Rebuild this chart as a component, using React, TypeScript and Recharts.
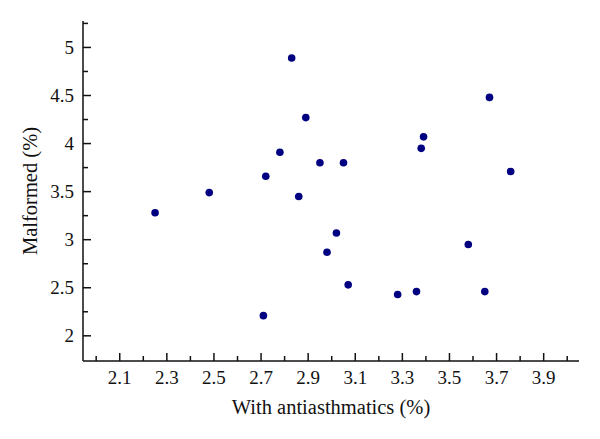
import { ScatterChart, Scatter, XAxis, YAxis } from 'recharts';

// values
const antiasthmatics = [2.25, 2.48, 2.71, 2.72, 2.78, 2.83, 2.86, 2.89, 2.95, 2.98, 3.02, 3.05, 3.07, 3.28, 3.36, 3.38, 3.39, 3.58, 3.65, 3.67, 3.76];
const malformed = [3.28, 3.49, 2.21, 3.66, 3.91, 4.89, 3.45, 4.27, 3.8, 2.87, 3.07, 3.8, 2.53, 2.43, 2.46, 3.95, 4.07, 2.95, 2.46, 4.48, 3.71];

const xMajor = [2.1, 2.3, 2.5, 2.7, 2.9, 3.1, 3.3, 3.5, 3.7, 3.9];
const xMinor = [2.0, 2.2, 2.4, 2.6, 2.8, 3.0, 3.2, 3.4, 3.6, 3.8, 4.0];
const yMajor = [2, 2.5, 3, 3.5, 4, 4.5, 5];
const yMinor = [2.25, 2.75, 3.25, 3.75, 4.25, 4.75, 5.25];

const xTicks = [...xMajor, ...xMinor].sort((a, b) => a - b);
const yTicks = [...yMajor, ...yMinor].sort((a, b) => a - b);

const points = antiasthmatics.map((x, i) => ({ x, y: malformed[i] }));

const FONT = '"Liberation Serif", "Times New Roman", serif';
const INK = '#111';

const isMajor = (list: number[], v: number) => list.some(m => Math.abs(m - v) < 1e-6);

function XTick(props: any) {
  const { x, y, payload } = props;
  const major = isMajor(xMajor, payload.value);
  return (
    <g>
      <line x1={x} y1={y} x2={x} y2={y - (major ? 8 : 5)} stroke={INK} strokeWidth={1.5} />
      {major && (
        <text x={x} y={y + 23} textAnchor="middle" fontSize={19} fontFamily={FONT} fill={INK}>
          {payload.value.toFixed(1)}
        </text>
      )}
    </g>
  );
}

function YTick(props: any) {
  const { x, y, payload } = props;
  const major = isMajor(yMajor, payload.value);
  return (
    <g>
      <line x1={x} y1={y} x2={x + (major ? 8 : 5)} y2={y} stroke={INK} strokeWidth={1.5} />
      {major && (
        <text x={x - 9} y={y} dy="0.35em" textAnchor="end" fontSize={19} fontFamily={FONT} fill={INK}>
          {payload.value}
        </text>
      )}
    </g>
  );
}

function XTitle(props: any) {
  const { viewBox } = props;
  return (
    <text x={viewBox.x + viewBox.width / 2} y={viewBox.y + 53} textAnchor="middle" fontSize={20.5} fontFamily={FONT} fill={INK}>
      With antiasthmatics (%)
    </text>
  );
}

function YTitle(props: any) {
  const { viewBox } = props;
  const cx = viewBox.x + 37;
  const cy = viewBox.y + viewBox.height / 2;
  return (
    <text x={cx} y={cy} transform={`rotate(-90, ${cx}, ${cy})`} textAnchor="middle" fontSize={20.5} fontFamily={FONT} fill={INK}>
      Malformed (%)
    </text>
  );
}

export default function App() {
  return (
    <div style={{ position: 'absolute', left: 0, top: 0, width: 600, height: 439, background: '#fff' }}>
      <ScatterChart width={600} height={439} margin={{ top: 21, right: 21, bottom: 48, left: 0 }}>
        <XAxis
          type="number"
          dataKey="x"
          domain={[1.944, 4.05]}
          ticks={xTicks}
          interval={0}
          tickLine={false}
          tickSize={0}
          tickMargin={0}
          height={30}
          axisLine={{ stroke: INK, strokeWidth: 1.5 }}
          tick={<XTick />}
          label={<XTitle />}
        />
        <YAxis
          type="number"
          dataKey="y"
          domain={[1.738, 5.275]}
          ticks={yTicks}
          interval={0}
          tickLine={false}
          tickSize={0}
          tickMargin={0}
          width={83}
          axisLine={{ stroke: INK, strokeWidth: 1.5 }}
          tick={<YTick />}
          label={<YTitle />}
        />
        <Scatter data={points} fill="#000080" isAnimationActive={false}
          shape={(p: any) => <circle cx={p.cx} cy={p.cy} r={3.8} fill="#000080" />} />
      </ScatterChart>
    </div>
  );
}
